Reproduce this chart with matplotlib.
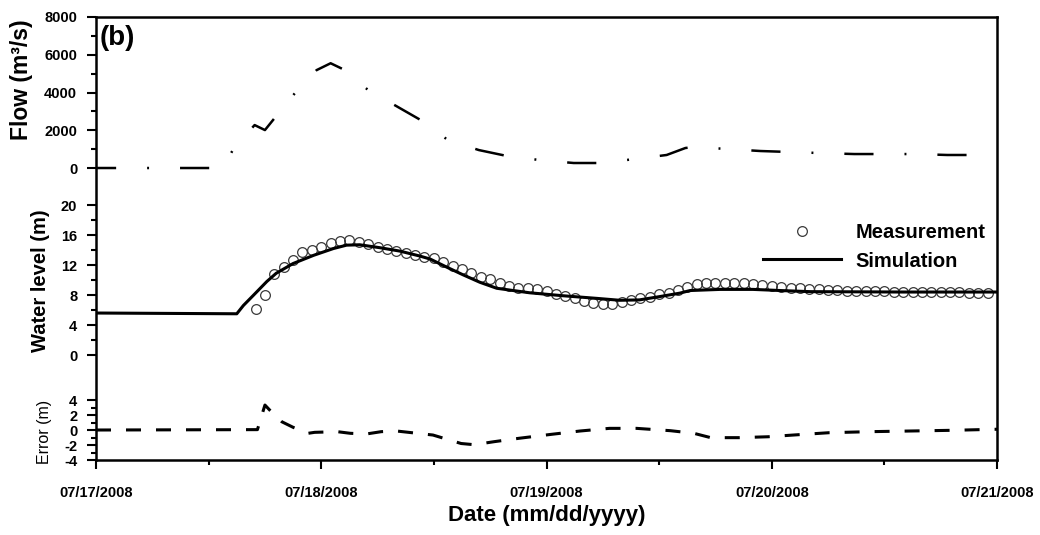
import numpy as np
import matplotlib
matplotlib.use("Agg")
import matplotlib.pyplot as plt
import matplotlib.dates as mdates
from matplotlib.ticker import FixedLocator

plt.rcParams["font.family"] = "Liberation Sans"
plt.rcParams["font.weight"] = "bold"
plt.rcParams["lines.scale_dashes"] = False

# ---- data (times in hours after 07/17/2008 00:00) ----
start = np.datetime64("2008-07-17T00:00")

flow_hours = [0, 6, 12, 13.5, 14.7, 16.9, 18.0, 19.2, 21.2, 23.5, 25.0, 26.3, 29.0,
              32.0, 34.6, 37.5, 40.8, 43.8, 47.3, 50.9, 53.8, 57.4, 60.8, 62.8,
              63.7, 67.2, 70.8, 73.8, 77.3, 80.8, 83.8, 87.4, 90.7, 93.8, 96.0]
flow_values = [0, 0, 0, 0, 1060, 2275, 2010, 2750, 3970, 5185, 5550, 5240, 4130,
               3280, 2540, 1480, 950, 635, 420, 265, 265, 475, 690, 1060,
               1110, 1010, 900, 850, 790, 740, 740, 740, 690, 690, 680]

meas_hours = np.arange(17, 96)
meas_level = [6.1, 8.0, 10.8, 11.8, 12.7, 13.7, 14.0, 14.4, 14.9, 15.2,
              15.3, 15.1, 14.8, 14.4, 14.1, 13.9, 13.6, 13.4, 13.1, 12.9,
              12.4, 11.9, 11.5, 11.0, 10.4, 10.1, 9.6, 9.2, 9.0, 9.0,
              8.8, 8.5, 8.1, 7.9, 7.6, 7.2, 7.0, 6.8, 6.8, 7.1,
              7.3, 7.6, 7.8, 8.1, 8.3, 8.7, 9.1, 9.5, 9.6, 9.6,
              9.6, 9.6, 9.55, 9.5, 9.3, 9.2, 9.1, 9.0, 8.9, 8.8,
              8.75, 8.7, 8.65, 8.6, 8.6, 8.55, 8.5, 8.5, 8.45, 8.45,
              8.4, 8.4, 8.4, 8.35, 8.35, 8.35, 8.3, 8.3, 8.3]

sim_hours = [0, 15.0, 15.7, 16.8, 18.2, 19.2, 21.0, 23.2, 25.3, 26.7, 28.1, 30.3,
             32.4, 34.5, 35.6, 37.4, 39.1, 40.9, 42.7, 46.2, 49.8, 53.4, 55.8,
             57.9, 60.1, 62.2, 63.3, 66.5, 70.0, 72.9, 76.1, 86.0, 96.0]
sim_level = [5.6, 5.5, 6.6, 8.0, 9.8, 10.9, 12.2, 13.3, 14.2, 14.65, 14.7, 14.3,
             13.85, 13.2, 12.8, 11.7, 10.7, 9.7, 8.9, 8.3, 7.9, 7.55, 7.3,
             7.35, 7.8, 8.25, 8.6, 8.75, 8.75, 8.6, 8.45, 8.4, 8.4]

err_hours = [0, 17.2, 18.0, 18.5, 19.8, 21.0, 22.6, 23.3, 25.7, 27.1, 28.8, 30.4,
             32.0, 35.9, 38.9, 40.3, 42.4, 45.1, 48.5, 51.6, 54.7, 57.6, 61.2,
             63.7, 65.5, 68.5, 71.6, 74.3, 78.1, 82.5, 86.9, 91.2, 95.6, 96.0]
err_values = [0, 0.05, 3.33, 2.67, 1.1, 0.36, -0.44, -0.31, -0.22, -0.44, -0.53, -0.22,
              -0.13, -0.67, -1.8, -1.96, -1.56, -1.1, -0.58, -0.13, 0.22, 0.22, -0.09,
              -0.44, -1.02, -1.02, -0.9, -0.67, -0.36, -0.22, -0.13, -0.04, 0.09, 0.1]

flow_ticks = [0, 2000, 4000, 6000, 8000]
level_ticks = [0, 4, 8, 12, 16, 20]
err_ticks = [-4, -2, 0, 2, 4]


def to_time(hours):
    return start + np.round(np.asarray(hours, dtype=float) * 60).astype("timedelta64[m]")


# ---- layout: three stacked panels inside one common frame ----
W, H = 1040, 535
fig = plt.figure(figsize=(W / 100, H / 100), dpi=100)
L, R = 96 / W, 997 / W


def panel(top_px, bot_px):
    return fig.add_axes([L, 1 - bot_px / H, R - L, (bot_px - top_px) / H])


frame = panel(17, 460)
frame.set_xticks([])
frame.set_yticks([])
frame.patch.set_alpha(0)
for s in frame.spines.values():
    s.set_linewidth(1.8)
    s.set_capstyle("projecting")

ax3 = panel(380, 460)
ax1 = panel(17, 185)
ax2 = panel(185, 380)
for a in (ax1, ax2):
    a.sharex(ax3)
for a in (ax1, ax2, ax3):
    for s in a.spines.values():
        s.set_visible(False)
    a.patch.set_alpha(0)

# flow
ax1.plot(to_time(flow_hours), flow_values, color="black", lw=1.8,
         linestyle=(6.5, (21, 22.3, 1.4, 22.3)), solid_capstyle="butt",
         dash_capstyle="butt")
ax1.set_ylim(-900, 8000)
ax1.yaxis.set_major_locator(FixedLocator(flow_ticks))
ax1.yaxis.set_minor_locator(FixedLocator([1000, 3000, 5000, 7000]))
ax1.set_yticklabels([str(t) for t in flow_ticks])
ax1.set_ylabel("Flow (m³/s)", fontsize=16.5, fontweight="bold")
ax1.yaxis.set_label_coords((33 - 96) / 901, 0.625)
ax1.text(0.0044, 0.955, "(b)", transform=ax1.transAxes, fontsize=20,
         fontweight="bold", va="top", ha="left")

# water level
meas, = ax2.plot(to_time(meas_hours), meas_level, linestyle="none", marker="o",
                 ms=7, mfc="none", mec="#3a3a3a", mew=0.9, label="Measurement")
sim, = ax2.plot(to_time(sim_hours), sim_level, color="black", lw=2.2,
                label="Simulation")
ax2.set_ylim(-3.33, 22.67)
ax2.yaxis.set_major_locator(FixedLocator(level_ticks))
ax2.yaxis.set_minor_locator(FixedLocator([2, 6, 10, 14, 18]))
ax2.set_yticklabels([str(t) for t in level_ticks])
ax2.set_ylabel("Water level (m)", fontsize=14.5, fontweight="bold")
ax2.yaxis.set_label_coords((50 - 96) / 901, 0.51)
ax2.legend(handles=[meas, sim], loc="center left",
           bbox_to_anchor=(763 / W, 1 - 247 / H), bbox_transform=fig.transFigure,
           frameon=False, handlelength=3.85, handletextpad=0.75,
           labelspacing=0.45, borderpad=0, borderaxespad=0, numpoints=1,
           prop={"size": 14.5, "weight": "bold"})

# error
ax3.plot(to_time(err_hours), err_values, color="black", lw=2.2,
         linestyle=(0, (10.8, 10.8)), dash_capstyle="butt")
ax3.set_ylim(-4, 6.67)
ax3.yaxis.set_major_locator(FixedLocator(err_ticks))
ax3.yaxis.set_minor_locator(FixedLocator([-3, -1, 1, 3]))
ax3.set_yticklabels([str(t) for t in err_ticks])
ax3.set_ylabel("Error (m)", fontsize=11.5, fontweight="normal")
ax3.yaxis.set_label_coords((52 - 96) / 901, 0.35)

ax3.set_xlim(start, start + np.timedelta64(4, "D"))
ax3.xaxis.set_major_locator(mdates.DayLocator())
ax3.xaxis.set_minor_locator(mdates.HourLocator(byhour=[12]))
ax3.xaxis.set_major_formatter(mdates.DateFormatter("%m/%d/%Y"))
ax3.set_xlabel("Date (mm/dd/yyyy)", fontsize=16, fontweight="bold")
ax3.xaxis.set_label_coords(0.5, -0.56)
ax3.xaxis.label.set_va("top")

for a in (ax1, ax2, ax3):
    a.tick_params(axis="y", which="major", direction="out", length=6.5, width=1.5,
                  labelsize=10.5, pad=7, right=False)
    a.tick_params(axis="y", which="minor", direction="out", length=3.6, width=1.5,
                  right=False)
for a in (ax1, ax2):
    a.tick_params(axis="x", which="both", bottom=False, top=False,
                  labelbottom=False)
ax3.tick_params(axis="x", which="major", direction="out", length=6.5, width=1.5,
                labelsize=10.5, pad=12, top=False)
ax3.tick_params(axis="x", which="minor", direction="out", length=3.6, width=1.5,
                top=False)

fig.savefig("out.png", dpi=100)
